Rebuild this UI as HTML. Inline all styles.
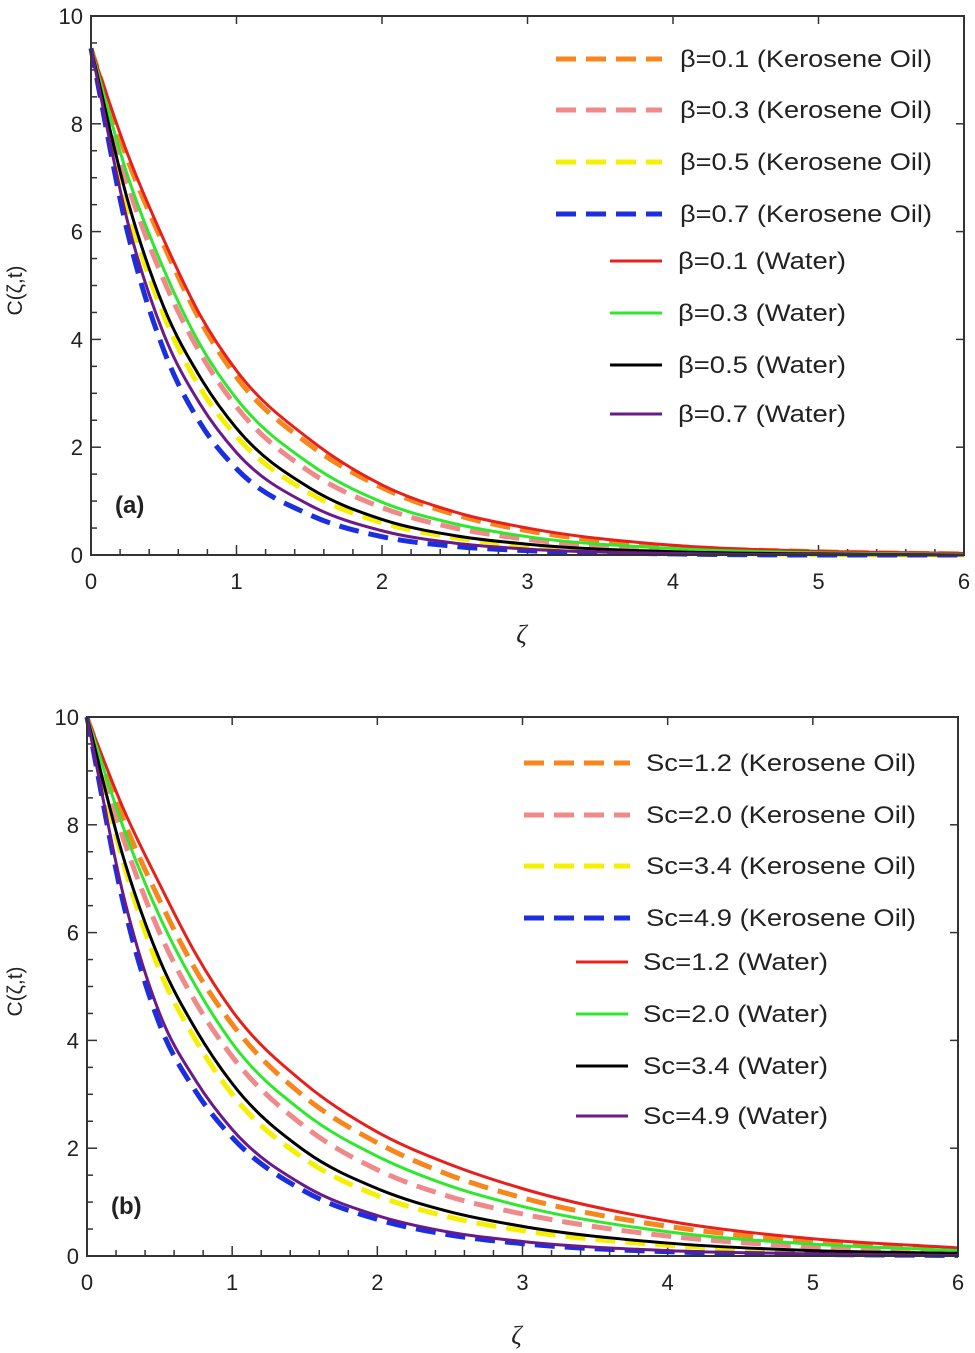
<!DOCTYPE html>
<html><head><meta charset="utf-8"><style>
html,body{margin:0;padding:0;background:#fff;}
svg{display:block;font-family:"Liberation Sans",sans-serif;}
</style></head><body>
<svg id="chart" width="975" height="1353" viewBox="0 0 975 1353"></svg>
<script>
const xs = [0,0.25,0.5,0.75,1,1.5,2,2.5,3,4,5,6];
const xTicks = [0,1,2,3,4,5,6];
const yTicks = [0,2,4,6,8,10];
const aLabels = ["β=0.1 (Kerosene Oil)","β=0.3 (Kerosene Oil)","β=0.5 (Kerosene Oil)","β=0.7 (Kerosene Oil)","β=0.1 (Water)","β=0.3 (Water)","β=0.5 (Water)","β=0.7 (Water)"];
const bLabels = ["Sc=1.2 (Kerosene Oil)","Sc=2.0 (Kerosene Oil)","Sc=3.4 (Kerosene Oil)","Sc=4.9 (Kerosene Oil)","Sc=1.2 (Water)","Sc=2.0 (Water)","Sc=3.4 (Water)","Sc=4.9 (Water)"];
// panel a values
const aOrange = [9.4,7.35,5.75,4.35,3.3,2.05,1.25,0.75,0.45,0.16,0.06,0.02];
const aPink   = [9.4,6.9,5.1,3.75,2.75,1.55,0.88,0.5,0.29,0.1,0.03,0.01];
const aYellow = [9.4,6.45,4.45,3.1,2.2,1.15,0.6,0.32,0.17,0.05,0.01,0];
const aBlue   = [9.4,6.0,3.8,2.45,1.6,0.75,0.34,0.16,0.08,0.02,0,0];
const aRed    = [9.4,7.45,5.85,4.45,3.42,2.15,1.3,0.8,0.5,0.18,0.07,0.03];
const aGreen  = [9.4,7.05,5.3,3.9,2.9,1.7,0.98,0.58,0.34,0.12,0.04,0.01];
const aBlack  = [9.4,6.6,4.6,3.3,2.35,1.25,0.66,0.36,0.2,0.06,0.02,0];
const aPurple = [9.4,6.2,4.1,2.8,1.9,0.93,0.45,0.22,0.11,0.03,0.01,0];
// panel b values
const bOrange = [10,8.1,6.6,5.3,4.3,2.95,2.1,1.5,1.08,0.55,0.27,0.12];
const bPink   = [10,7.75,6.0,4.7,3.7,2.4,1.6,1.1,0.78,0.37,0.17,0.08];
const bYellow = [10,7.3,5.3,4.0,3.0,1.8,1.12,0.72,0.47,0.2,0.08,0.04];
const bBlue   = [10,6.55,4.3,3.05,2.2,1.2,0.68,0.39,0.23,0.08,0.03,0.01];
const bRed    = [10,8.3,6.9,5.6,4.55,3.2,2.3,1.7,1.25,0.65,0.32,0.15];
const bGreen  = [10,7.95,6.3,5.0,3.95,2.65,1.85,1.3,0.92,0.45,0.22,0.1];
const bBlack  = [10,7.4,5.5,4.2,3.2,1.95,1.25,0.82,0.55,0.24,0.1,0.05];
const bPurple = [10,6.7,4.5,3.25,2.35,1.3,0.75,0.44,0.27,0.1,0.04,0.01];

const NS="http://www.w3.org/2000/svg";
const svg=document.getElementById('chart');
function mk(tag,attrs,parent){const e=document.createElementNS(NS,tag);for(const k in attrs)e.setAttribute(k,attrs[k]);(parent||svg).appendChild(e);return e;}

function smoothPath(px,py){
  const n=px.length,d=[],h=[],m=[];
  for(let i=0;i<n-1;i++){h.push(px[i+1]-px[i]);d.push((py[i+1]-py[i])/h[i]);}
  m[0]=d[0];m[n-1]=d[n-2];
  for(let i=1;i<n-1;i++){
    if(d[i-1]*d[i]<=0){m[i]=0;continue;}
    let v=(h[i]*d[i-1]+h[i-1]*d[i])/(h[i-1]+h[i]);
    const lim=3*Math.min(Math.abs(d[i-1]),Math.abs(d[i]));
    if(Math.abs(v)>lim)v=Math.sign(v)*lim;
    m[i]=v;
  }
  let s="M"+px[0]+","+py[0];
  for(let i=0;i<n-1;i++){
    s+=" C"+(px[i]+h[i]/3)+","+(py[i]+m[i]*h[i]/3)+" "+(px[i+1]-h[i]/3)+","+(py[i+1]-m[i+1]*h[i]/3)+" "+px[i+1]+","+py[i+1];}
  return s;
}

function panel(cfg){
  const g=mk('g',{});
  
  
  const X=v=>cfg.x0+(cfg.x1-cfg.x0)*v/6, Y=v=>cfg.y0-(cfg.y0-cfg.y1)*v/10;
  for(let v=0;v<=6.001;v+=0.2){const maj=Math.abs(v-Math.round(v))<0.01;
    const t=mk('line',{x1:X(v),x2:X(v),y1:cfg.y0,y2:cfg.y0-(maj?10:6),stroke:'#333','stroke-width':1.5},g);
    
    if(maj){mk('line',{x1:X(v),x2:X(v),y1:cfg.y1,y2:cfg.y1+8,stroke:'#333','stroke-width':1.5},g);}
  }
  for(let v=0;v<=10.001;v+=0.5){const maj=Math.abs(v/2-Math.round(v/2))<0.01;
    const t=mk('line',{x1:cfg.x0,x2:cfg.x0+(maj?10:6),y1:Y(v),y2:Y(v),stroke:'#333','stroke-width':1.5},g);
    
    if(maj)mk('line',{x1:cfg.x1,x2:cfg.x1-8,y1:Y(v),y2:Y(v),stroke:'#333','stroke-width':1.5},g);
  }
  xTicks.forEach(v=>{const t=mk('text',{x:X(v),y:cfg.y0+34,'text-anchor':'middle','font-size':22,fill:'#222'},g);t.textContent=v;
    });
  yTicks.forEach(v=>{const t=mk('text',{x:cfg.x0-8,y:Y(v)+8,'text-anchor':'end','font-size':22,fill:'#222'},g);t.textContent=v;
    });
  const yl=mk('text',{x:0,y:0,transform:`translate(22,${(cfg.y0+cfg.y1)/2+5}) rotate(-90)`,'text-anchor':'middle','font-size':21,fill:'#222'},g);
  yl.textContent='C(ζ,t)';
  const xl=mk('text',{x:(cfg.x0+cfg.x1)/2-6,y:cfg.y0+88,'text-anchor':'middle','font-size':26,'font-style':'italic','font-family':'"Liberation Serif",serif',fill:'#222'},g);
  xl.textContent='ζ';
  const pl=mk('text',{x:cfg.x0+24,y:cfg.y0-42,'font-size':24,'font-weight':'bold',fill:'#222'},g);
  pl.textContent=cfg.tag;
  const px=xs.map(X);
  cfg.series.forEach(s=>{
    const p=mk('path',{d:smoothPath(px,s.v.map(Y)),fill:'none',stroke:s.c,'stroke-width':s.dash?5:3,'stroke-dasharray':s.dash?'20,10':'none'},g);
    
  });
  const f=mk('rect',{x:cfg.x0,y:cfg.y1,width:cfg.x1-cfg.x0,height:cfg.y0-cfg.y1,fill:'none',stroke:'#333','stroke-width':2},g);
  
  cfg.legendRows.forEach((r,i)=>{const s=cfg.series[i];
    const lg=mk('g',{},g);
    mk('line',{x1:r.lx1,x2:r.lx2,y1:r.y,y2:r.y,stroke:s.c,'stroke-width':s.dash?5:3,'stroke-dasharray':s.dash?'20,10':'none'},lg);
    const t=mk('text',{x:r.tx,y:r.y+8,'font-size':24,fill:'#222',textLength:r.w,lengthAdjust:'spacingAndGlyphs'},lg);t.textContent=cfg.labels[i];
  });
}

const ser=(o,p,y,b,r,gr,bk,pu,pre)=>[
 {v:o,c:'#f7861c',dash:1,n:pre+'orange-dashed'},{v:p,c:'#f08a8a',dash:1,n:pre+'pink-dashed'},
 {v:y,c:'#f5f000',dash:1,n:pre+'yellow-dashed'},{v:b,c:'#1a2fe0',dash:1,n:pre+'blue-dashed'},
 {v:r,c:'#e8201c',dash:0,n:pre+'red-line'},{v:gr,c:'#2ee82e',dash:0,n:pre+'green-line'},
 {v:bk,c:'#000',dash:0,n:pre+'black-line'},{v:pu,c:'#6a1a8a',dash:0,n:pre+'purple-line'}];
panel({name:'panel-a',tag:'(a)',x0:91,x1:964,y0:555,y1:16,labels:aLabels,
  series:ser(aOrange,aPink,aYellow,aBlue,aRed,aGreen,aBlack,aPurple,'a-'),
  legendRows:[59,110,162,214].map(y=>({y,lx1:556,lx2:662,tx:680,w:252})).concat([261,313,365,414].map(y=>({y,lx1:610,lx2:662,tx:678,w:168})))});
panel({name:'panel-b',tag:'(b)',x0:87,x1:958,y0:1256,y1:717,labels:bLabels,
  series:ser(bOrange,bPink,bYellow,bBlue,bRed,bGreen,bBlack,bPurple,'b-'),
  legendRows:[763,815,866,918].map(y=>({y,lx1:524,lx2:630,tx:646,w:270})).concat([962,1014,1066,1116].map(y=>({y,lx1:576,lx2:628,tx:643,w:185})))});
</script>
</body></html>
